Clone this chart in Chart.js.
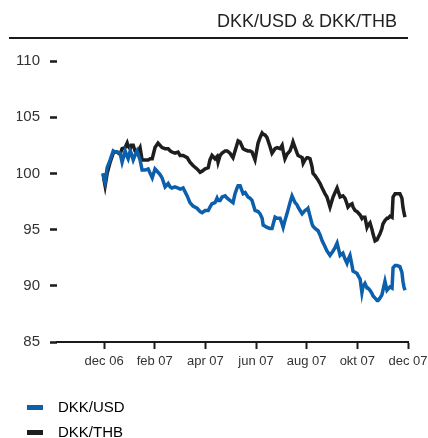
<!DOCTYPE html>
<html>
<head>
<meta charset="utf-8">
<script src="https://cdn.jsdelivr.net/npm/chart.js@4"></script>
<style>
html,body{margin:0;padding:0;background:#fff;}
</style>
</head>
<body>
<canvas id="c" width="428" height="438"></canvas>
<script>
const chartTitle = 'DKK/USD & DKK/THB';
const seriesNames = ['DKK/USD', 'DKK/THB'];
// month index: 0 = oct 06, 2 = dec 06, ..., 14 = dec 07
const tickMonths = [2, 4, 6, 8, 10, 12, 14];
const tickLabels = ['dec 06', 'feb 07', 'apr 07', 'jun 07', 'aug 07', 'okt 07', 'dec 07'];
const yTicks = [85, 90, 95, 100, 105, 110];

const months = [1.96,2.00,2.04,2.12,2.24,2.36,2.43,2.51,2.63,2.71,2.83,2.91,2.95,3.03,3.07,3.15,3.22,3.30,3.42,3.50,
3.62,3.74,3.82,3.90,4.01,4.13,4.21,4.29,4.41,4.53,4.61,4.68,4.80,4.92,5.00,5.12,5.28,5.39,5.51,5.67,
5.79,5.87,5.99,6.11,6.18,6.26,6.38,6.46,6.50,6.58,6.66,6.78,6.86,6.97,7.09,7.17,7.25,7.29,7.37,7.49,
7.57,7.68,7.76,7.84,7.96,8.08,8.16,8.24,8.28,8.36,8.43,8.55,8.63,8.75,8.83,8.95,9.03,9.07,9.14,9.22,
9.34,9.42,9.46,9.54,9.62,9.66,9.74,9.82,9.86,9.93,10.01,10.05,10.13,10.21,10.25,10.33,10.45,10.53,10.61,10.72,
10.80,10.92,11.04,11.12,11.20,11.32,11.43,11.51,11.59,11.63,11.71,11.79,11.83,11.91,11.99,12.03,12.11,12.18,12.22,12.30,
12.38,12.42,12.50,12.58,12.62,12.70,12.78,12.82,12.89,12.97,13.01,13.09,13.17,13.21,13.29,13.37,13.41,13.49,13.57,13.68,
13.76,13.80,13.84,13.88];

const usd = [100.0,99.5,99.2,100.5,101.2,102.0,101.9,101.9,101.8,101.0,102.0,101.5,101.3,102.0,101.8,101.2,101.6,102.0,101.2,100.3,
100.3,100.4,100.0,99.6,100.4,100.1,99.9,99.6,98.8,99.1,98.8,98.7,98.8,98.7,98.6,98.7,98.0,97.4,97.1,96.9,
96.6,96.5,96.7,96.7,97.0,97.3,97.4,97.8,97.6,97.6,97.9,98.0,97.8,97.6,97.4,98.2,98.7,98.9,98.9,98.2,
98.3,97.9,97.8,97.6,96.7,96.6,96.4,96.0,95.4,95.3,95.2,95.1,95.1,96.1,96.0,96.0,95.5,95.2,95.8,96.4,
97.4,98.0,97.8,97.4,97.2,97.0,96.7,96.4,96.5,96.7,96.8,96.9,96.2,95.5,95.3,95.1,94.9,94.5,94.0,93.5,
93.1,92.7,93.1,93.4,93.8,92.7,92.9,92.4,92.0,92.3,92.7,91.8,91.3,91.2,91.1,90.9,90.6,89.4,89.9,90.2,
89.8,89.8,89.6,89.3,89.1,88.9,88.7,88.7,88.9,89.2,89.6,90.4,89.6,89.7,89.9,89.8,91.6,91.8,91.8,91.7,
91.2,90.4,89.9,89.6];

const thb = [100.0,99.4,98.9,100.0,101.0,101.8,101.9,101.9,101.7,102.2,102.3,102.7,102.4,102.2,102.5,102.5,102.0,101.8,102.3,101.2,
101.2,101.2,101.3,101.3,102.3,102.7,102.5,102.3,102.2,102.2,102.0,101.9,101.8,101.9,101.6,101.6,101.4,101.0,100.7,100.4,
100.1,100.2,100.4,100.5,101.2,101.6,101.3,101.5,101.0,101.6,101.8,102.0,102.0,101.8,101.4,102.0,102.6,102.9,102.8,102.2,
102.1,102.0,102.0,101.9,101.2,102.7,103.2,103.6,103.5,103.4,103.2,102.4,101.8,102.2,102.3,102.2,102.5,102.0,101.3,101.7,
102.0,102.5,102.8,102.3,101.8,101.6,101.5,101.4,100.9,101.2,101.4,101.4,101.3,100.6,100.0,99.8,99.4,99.1,98.7,98.2,
97.9,97.0,97.9,98.3,98.7,97.9,98.0,97.8,97.3,97.0,97.2,97.3,97.0,96.7,96.6,96.5,96.3,96.0,96.1,96.1,
95.2,95.4,95.6,95.0,94.6,94.0,94.1,94.3,94.6,95.1,95.5,95.8,96.0,96.0,96.2,96.1,97.9,98.2,98.2,98.2,
97.8,97.0,96.5,96.1];

const toPoints = vals => vals.map((v, i) => ({x: months[i], y: v}));
const FONT = "'Liberation Sans', Arial, sans-serif";

const headerPlugin = {
  id: 'header',
  beforeDraw(chart) {
    const ctx = chart.ctx;
    ctx.save();
    ctx.fillStyle = '#222';
    ctx.font = "18px 'Liberation Sans', Arial, sans-serif";
    ctx.textAlign = 'right';
    ctx.textBaseline = 'middle';
    ctx.fillText(chartTitle, 397, 22);
    ctx.strokeStyle = '#1a1a1a';
    ctx.lineWidth = 2;
    ctx.beginPath();
    ctx.moveTo(9, 38);
    ctx.lineTo(chart.chartArea.right, 38);
    ctx.stroke();
    ctx.restore();
  }
};

new Chart(document.getElementById('c'), {
  type: 'line',
  data: {
    datasets: [
      {label: seriesNames[0], data: toPoints(usd), borderColor: '#0b5fab', backgroundColor: '#0b5fab',
       borderWidth: 3.5, pointRadius: 0, tension: 0},
      {label: seriesNames[1], data: toPoints(thb), borderColor: '#1e1e1e', backgroundColor: '#1e1e1e',
       borderWidth: 3.5, pointRadius: 0, tension: 0}
    ]
  },
  options: {
    responsive: false,
    animation: false,
    layout: {padding: {top: 61, left: 17, right: 20, bottom: 0}},
    scales: {
      x: {
        type: 'linear', min: 0.14, max: 14,
        afterBuildTicks: s => { s.ticks = tickMonths.map(v => ({value: v})); },
        afterFit: s => { s.height = 48; s.paddingRight = 20; },
        ticks: {autoSkip: false, maxRotation: 0, padding: 5, color: '#333', font: {family: FONT, size: 13},
          callback: v => { const i = tickMonths.indexOf(v); return i >= 0 ? tickLabels[i] : ''; }},
        grid: {drawOnChartArea: false, tickLength: 7, tickWidth: 2, tickColor: '#1a1a1a'},
        border: {display: true, color: '#1a1a1a', width: 2}
      },
      y: {
        min: 85, max: 110,
        afterBuildTicks: s => { s.ticks = yTicks.map(v => ({value: v})); },
        afterFit: s => { s.width = 40; },
        ticks: {padding: 10, color: '#333', font: {family: FONT, size: 15}},
        grid: {drawOnChartArea: false, tickLength: 7, tickWidth: 2.5, tickColor: '#1a1a1a'},
        border: {display: false}
      }
    },
    plugins: {
      tooltip: {enabled: false},
      legend: {
        position: 'bottom', align: 'start', maxHeight: 48,
        labels: {
          boxWidth: 16, boxHeight: 5, padding: 10, color: '#222', font: {family: FONT, size: 15},
          generateLabels: chart => chart.data.datasets.map((d, i) => ({
            text: '\u2002' + d.label + '\u2003\u2003\u2003\u2003\u2003\u2003\u2003',
            fillStyle: d.borderColor, strokeStyle: d.borderColor, lineWidth: 0, hidden: false, datasetIndex: i
          }))
        }
      }
    }
  },
  plugins: [headerPlugin]
});
</script>
</body>
</html>
